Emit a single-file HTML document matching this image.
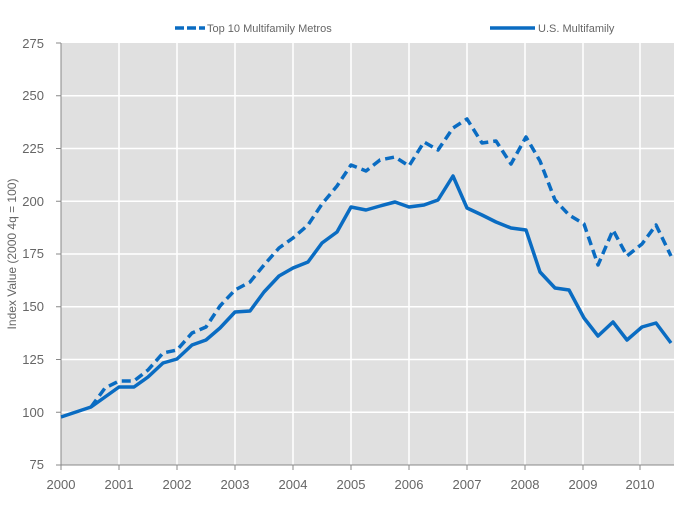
<!DOCTYPE html>
<html><head><meta charset="utf-8"><style>body{margin:0;background:#fff}svg{display:block;font-family:"Liberation Sans",sans-serif}</style></head><body>
<svg width="700" height="507" xmlns="http://www.w3.org/2000/svg">
<rect x="61" y="43" width="613" height="422" fill="#e0e0e0"/>
<g stroke="#fff" stroke-width="1.5">
<line x1="61" x2="674" y1="95.7" y2="95.7"/><line x1="61" x2="674" y1="148.5" y2="148.5"/><line x1="61" x2="674" y1="201.2" y2="201.2"/><line x1="61" x2="674" y1="254" y2="254"/><line x1="61" x2="674" y1="306.7" y2="306.7"/><line x1="61" x2="674" y1="359.5" y2="359.5"/><line x1="61" x2="674" y1="412.2" y2="412.2"/>
<line y1="43" y2="465" x1="119" x2="119"/><line y1="43" y2="465" x1="177" x2="177"/><line y1="43" y2="465" x1="235" x2="235"/><line y1="43" y2="465" x1="293" x2="293"/><line y1="43" y2="465" x1="351" x2="351"/><line y1="43" y2="465" x1="409" x2="409"/><line y1="43" y2="465" x1="467" x2="467"/><line y1="43" y2="465" x1="525" x2="525"/><line y1="43" y2="465" x1="583" x2="583"/><line y1="43" y2="465" x1="640" x2="640"/>
</g>
<g stroke="#888" stroke-width="1" fill="none">
<path d="M61 43V465H674"/>
<path d="M56 43h5M56 95.7h5M56 148.5h5M56 201.2h5M56 254h5M56 306.7h5M56 359.5h5M56 412.2h5M56 465h5"/>
<path d="M61 465v5M119 465v5M177 465v5M235 465v5M293 465v5M351 465v5M409 465v5M467 465v5M525 465v5M583 465v5M640 465v5"/>
</g>
<g fill="#666" font-size="13" text-anchor="end">
<text x="44" y="48">275</text><text x="44" y="100">250</text><text x="44" y="153">225</text><text x="44" y="206">200</text><text x="44" y="258">175</text><text x="44" y="311">150</text><text x="44" y="364">125</text><text x="44" y="417">100</text><text x="44" y="469">75</text>
</g>
<g fill="#666" font-size="13" text-anchor="middle">
<text x="61" y="489">2000</text><text x="119" y="489">2001</text><text x="177" y="489">2002</text><text x="235" y="489">2003</text><text x="293" y="489">2004</text><text x="351" y="489">2005</text><text x="409" y="489">2006</text><text x="467" y="489">2007</text><text x="525" y="489">2008</text><text x="583" y="489">2009</text><text x="640" y="489">2010</text>
</g>
<text transform="translate(16,254) rotate(-90)" fill="#666" font-size="12" text-anchor="middle">Index Value (2000 4q = 100)</text>
<g fill="none" stroke="#0a6cc2" stroke-width="3.5" stroke-linejoin="round">
<polyline stroke-dasharray="9,5" points="91,407 105,388 119,381 134,381 148,370 163,353 177,350 192,333 206,327 220,306 235,290 250,282 264,265 279,248 293,238 308,225 322,204 337,186 351,165 366,171 380,160 395,157 409,166 424,142 438,150 453,128 467,119 482,143 496,141 511,164 526,137 540,161 555,200 569,215 584,224 598,265 613,230 627,256 642,244 656,225 671,256"/>
<polyline points="61,417 76,412 91,407 105,397 119,387 134,387 148,377 163,363 177,359 192,345 206,340 220,328 235,312 250,311 264,292 279,276 293,268 308,262 322,243 337,232 351,207 366,210 380,206 395,202 409,207 424,205 438,200 453,176 467,208 482,215 496,222 511,228 526,230 540,272 555,288 569,290 584,318 598,336 613,322 627,340 642,327 656,323 671,343"/>
<line x1="175" y1="28" x2="205" y2="28" stroke-dasharray="9,3"/>
<line x1="490" y1="28" x2="535" y2="28"/>
</g>
<g fill="#666" font-size="11">
<text x="207" y="32">Top 10 Multifamily Metros</text>
<text x="538" y="32">U.S. Multifamily</text>
</g>
</svg>
</body></html>
